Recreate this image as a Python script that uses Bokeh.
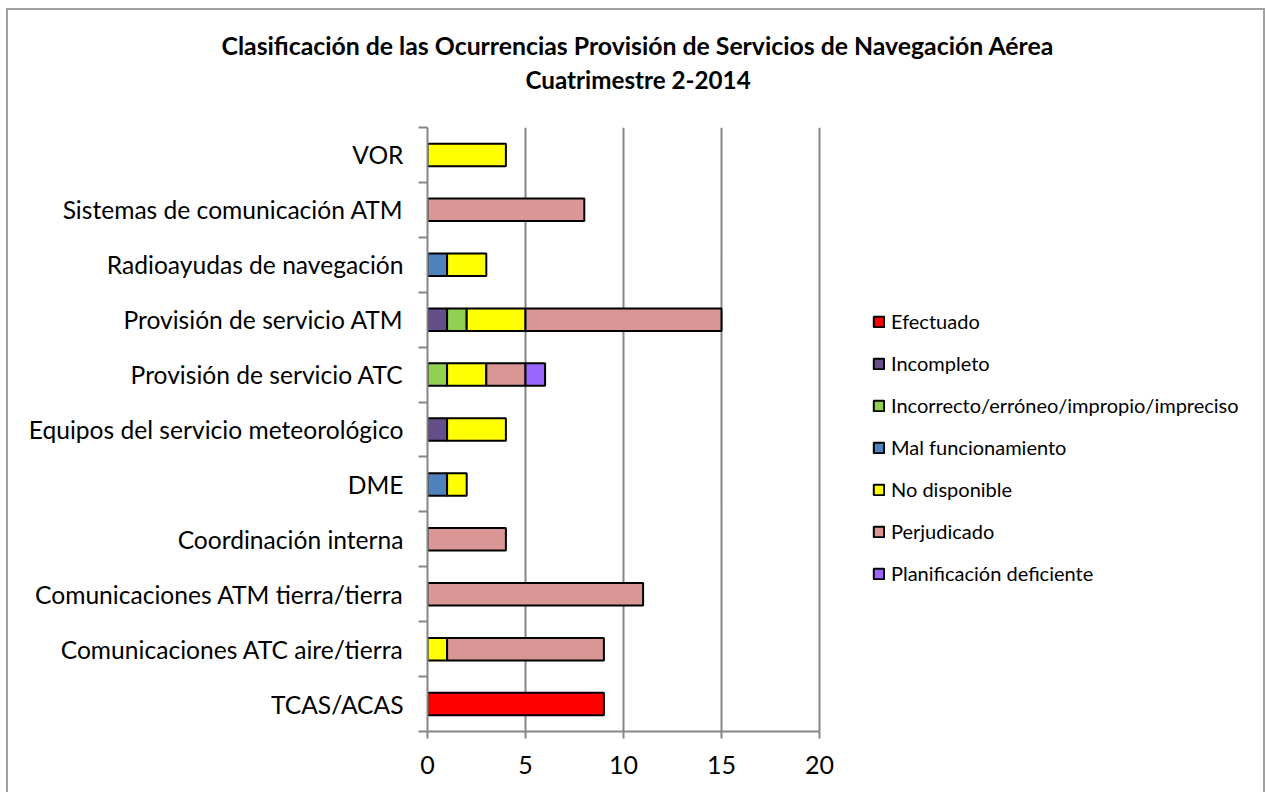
from bokeh.plotting import figure
from bokeh.models import ColumnDataSource, FixedTicker, Legend, LegendItem, Range1d, Title
from bokeh.embed import file_html
from bokeh.resources import INLINE

categories = [
    "TCAS/ACAS",
    "Comunicaciones ATC aire/tierra",
    "Comunicaciones ATM tierra/tierra",
    "Coordinación interna",
    "DME",
    "Equipos del servicio meteorológico",
    "Provisión de servicio ATC",
    "Provisión de servicio ATM",
    "Radioayudas de navegación",
    "Sistemas de comunicación ATM",
    "VOR",
]
series_names = [
    "Efectuado",
    "Incompleto",
    "Incorrecto/erróneo/impropio/impreciso",
    "Mal funcionamiento",
    "No disponible",
    "Perjudicado",
    "Planificación deficiente",
]
efectuado = [9, 0, 0, 0, 0, 0, 0, 0, 0, 0, 0]
incompleto = [0, 0, 0, 0, 0, 1, 0, 1, 0, 0, 0]
incorrecto = [0, 0, 0, 0, 0, 0, 1, 1, 0, 0, 0]
mal_funcionamiento = [0, 0, 0, 0, 1, 0, 0, 0, 1, 0, 0]
no_disponible = [0, 1, 0, 0, 1, 3, 2, 3, 2, 0, 4]
perjudicado = [0, 8, 11, 4, 0, 0, 2, 10, 0, 8, 0]
planificacion = [0, 0, 0, 0, 0, 0, 1, 0, 0, 0, 0]
x_ticks = [0, 5, 10, 15, 20]
title_lines = ["Clasificación de las Ocurrencias Provisión de Servicios de Navegación Aérea",
               "Cuatrimestre 2-2014"]
colors = ["#FF0000", "#644F8A", "#92D050", "#4F81BD", "#FFFF00", "#D99694", "#9966FF"]

series_values = [efectuado, incompleto, incorrecto, mal_funcionamiento,
                 no_disponible, perjudicado, planificacion]

FONT = "Lato"
GRAY = "#868686"

# layout: the axis 0..20 occupies 392 px; the frame is wider so the legend fits inside it
AXIS_PX = 392
FRAME_W = 826
FRAME_H = 604
x_max = x_ticks[-1] * FRAME_W / AXIS_PX

p = figure(frame_width=FRAME_W, frame_height=FRAME_H, output_backend="svg",
           toolbar_location=None,
           x_range=Range1d(0, x_max), y_range=Range1d(0, len(categories)),
           min_border_left=419, min_border_right=10, min_border_top=117,
           min_border_bottom=61)
p.styles = {"margin-left": "6px", "margin-top": "8px",
            "border-left": "2px solid #A0A0A0", "border-top": "2px solid #A0A0A0",
            "border-right": "2px solid #A0A0A0"}

# two title lines (p.title is the outer one, the added one sits next to the frame)
p.title.text = title_lines[0]
p.title.align = "left"
p.title.offset = -206
p.title.text_font = FONT
p.title.text_font_style = "bold"
p.title.text_font_size = "24.8px"
p.title.text_color = "black"
p.title.standoff = -62
t2 = Title(text=title_lines[1], align="left", offset=98, text_font=FONT,
           text_font_style="bold", text_font_size="24.2px", text_color="black",
           standoff=68)
p.add_layout(t2, "above")

p.outline_line_color = None
p.background_fill_color = "white"
p.border_fill_color = "white"

# x axis
p.xaxis.ticker = FixedTicker(ticks=x_ticks)
p.xaxis.bounds = (x_ticks[0], x_ticks[-1])
p.xaxis.axis_line_color = GRAY
p.xaxis.axis_line_width = 2
p.xaxis.major_tick_line_color = GRAY
p.xaxis.major_tick_line_width = 2
p.xaxis.major_tick_out = 7
p.xaxis.major_tick_in = 0
p.xaxis.minor_tick_line_color = None
p.xaxis.major_label_text_font = FONT
p.xaxis.major_label_text_font_size = "25px"
p.xaxis.major_label_text_color = "black"
p.xaxis.major_label_standoff = 17

# y axis: labels at category centres, tick marks at boundaries
centers = [i + 0.5 for i in range(len(categories))]
bounds = list(range(len(categories) + 1))
p.yaxis.ticker = FixedTicker(ticks=centers, minor_ticks=bounds)
p.yaxis.major_label_overrides = {c: name for c, name in zip(centers, categories)}
p.yaxis.axis_line_color = GRAY
p.yaxis.axis_line_width = 2
p.yaxis.major_tick_line_color = None
p.yaxis.major_tick_out = 0
p.yaxis.major_tick_in = 0
p.yaxis.minor_tick_line_color = GRAY
p.yaxis.minor_tick_line_width = 2
p.yaxis.minor_tick_out = 9
p.yaxis.minor_tick_in = 0
p.yaxis.major_label_text_font = FONT
p.yaxis.major_label_text_font_size = "24.6px"
p.yaxis.major_label_text_color = "black"
p.yaxis.major_label_standoff = 15

p.xgrid.grid_line_color = GRAY
p.xgrid.grid_line_width = 2
p.xgrid.ticker = FixedTicker(ticks=x_ticks)
p.ygrid.grid_line_color = None

items = []
cum = [0] * len(categories)
for name, vals, col in zip(series_names, series_values, colors):
    ys, lefts, rights = [], [], []
    for i, v in enumerate(vals):
        if v > 0:
            ys.append(centers[i])
            lefts.append(cum[i])
            rights.append(cum[i] + v)
        cum[i] += v
    src = ColumnDataSource(dict(y=ys, left=lefts, right=rights))
    r = p.hbar(y="y", left="left", right="right", height=0.41, source=src,
               fill_color=col, line_color="black", line_width=2)
    items.append(LegendItem(label=name, renderers=[r]))

legend = Legend(items=items, location=(445, 146), padding=0, margin=0,
                spacing=18, label_height=20, glyph_height=13, glyph_width=13,
                label_standoff=6, label_text_font=FONT, label_text_font_size="20px",
                label_text_color="black", border_line_color=None,
                background_fill_alpha=0)
p.add_layout(legend, "center")

open("out.html", "w").write(file_html(p, INLINE))
